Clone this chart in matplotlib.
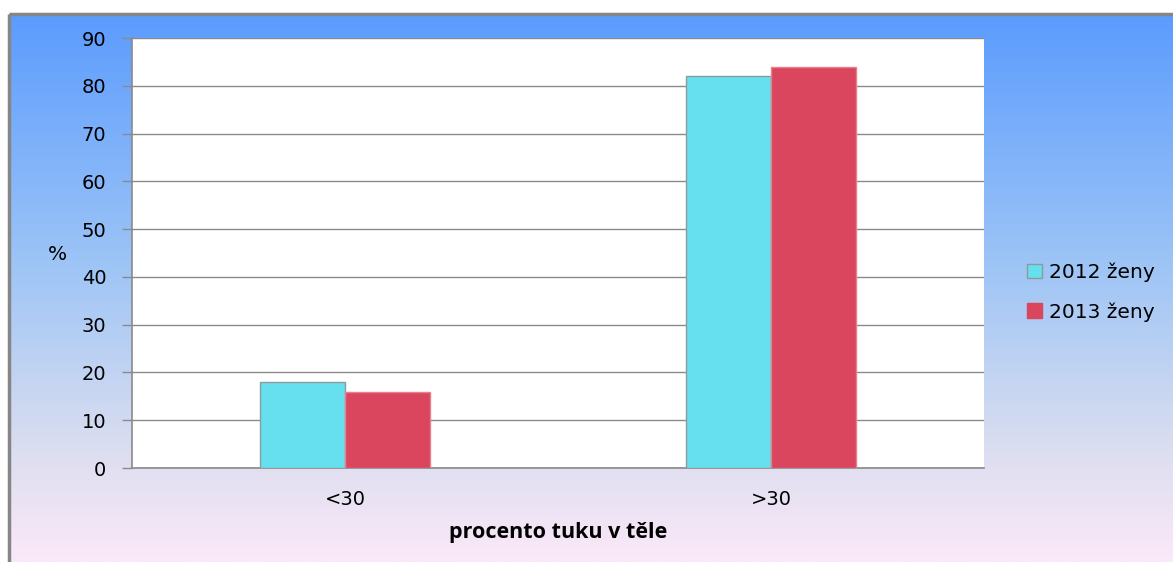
import matplotlib.pyplot as plt
import numpy as np
from matplotlib.colors import LinearSegmentedColormap
from matplotlib.patches import Patch

categories = ['<30', '>30']
series_names = ['2012 ženy', '2013 ženy']
values_2012 = [18, 82]
values_2013 = [16, 84]
yticks = [0, 10, 20, 30, 40, 50, 60, 70, 80, 90]

fig = plt.figure(figsize=(11.73, 5.62), dpi=100)

# gradient background behind the whole chart
bg = fig.add_axes([0, 0, 1, 1], zorder=-10)
bg_cmap = LinearSegmentedColormap.from_list(
    'bg', [(0.0, '#5c9cfe'), (0.45, '#9cc4f6'), (0.8, '#dcdef0'), (1.0, '#fbe8f8')])
grad = np.linspace(0, 1, 300).reshape(-1, 1)
bg.imshow(grad, aspect='auto', cmap=bg_cmap, extent=[9, 1173, 562, 14])
bg.set_xlim(0, 1173)
bg.set_ylim(562, 0)
bg.plot([9, 9], [14, 562], color='#868686', lw=2.5, solid_capstyle='butt')
bg.plot([9, 1173], [14, 14], color='#868686', lw=2.5, solid_capstyle='butt')
bg.axis('off')

ax = fig.add_axes([132 / 1173, 94 / 562, 852 / 1173, 430 / 562])
ax.set_facecolor('white')
x = np.arange(len(categories))
w = 0.2
ax.bar(x - w / 2, values_2012, w, color='#66dfee', edgecolor='#8c9c9e', linewidth=1, zorder=3)
ax.bar(x + w / 2, values_2013, w, color='#d9465e', edgecolor='#e8808e', linewidth=1, zorder=3)

ax.set_xlim(-0.5, 1.5)
ax.set_ylim(0, 90)
ax.set_yticks(yticks)
ax.yaxis.grid(True, color='#8a8a8a', linewidth=1)
ax.set_axisbelow(True)
ax.set_xticks(x)
ax.set_xticklabels(categories)
ax.tick_params(axis='x', length=0, pad=16, labelsize=14)
ax.tick_params(axis='y', direction='out', length=7.5, width=1, color='#8a8a8a',
               pad=11, labelsize=14)
for s in ['top', 'right']:
    ax.spines[s].set_visible(False)
for s in ['left', 'bottom']:
    ax.spines[s].set_color('#8a8a8a')
    ax.spines[s].set_linewidth(1.2)

ax.set_xlabel('procento tuku v těle', fontsize=15.5, fontweight='bold',
              family=['Open Sans', 'DejaVu Sans'], labelpad=9)
fig.text(57 / 1173, 1 - 255 / 562, '%', fontsize=14.5, ha='center', va='center')

handles = [Patch(facecolor='#66dfee', edgecolor='#8c9c9e'),
           Patch(facecolor='#d9465e', edgecolor='#d9465e')]
fig.legend(handles, series_names, loc='center left', bbox_to_anchor=(1009 / 1173, 1 - 292 / 562),
           frameon=False, fontsize=14.5, handlelength=0.75, handleheight=0.75,
           handletextpad=0.35, labelspacing=1.0)

fig.savefig('out.png', dpi=100)
